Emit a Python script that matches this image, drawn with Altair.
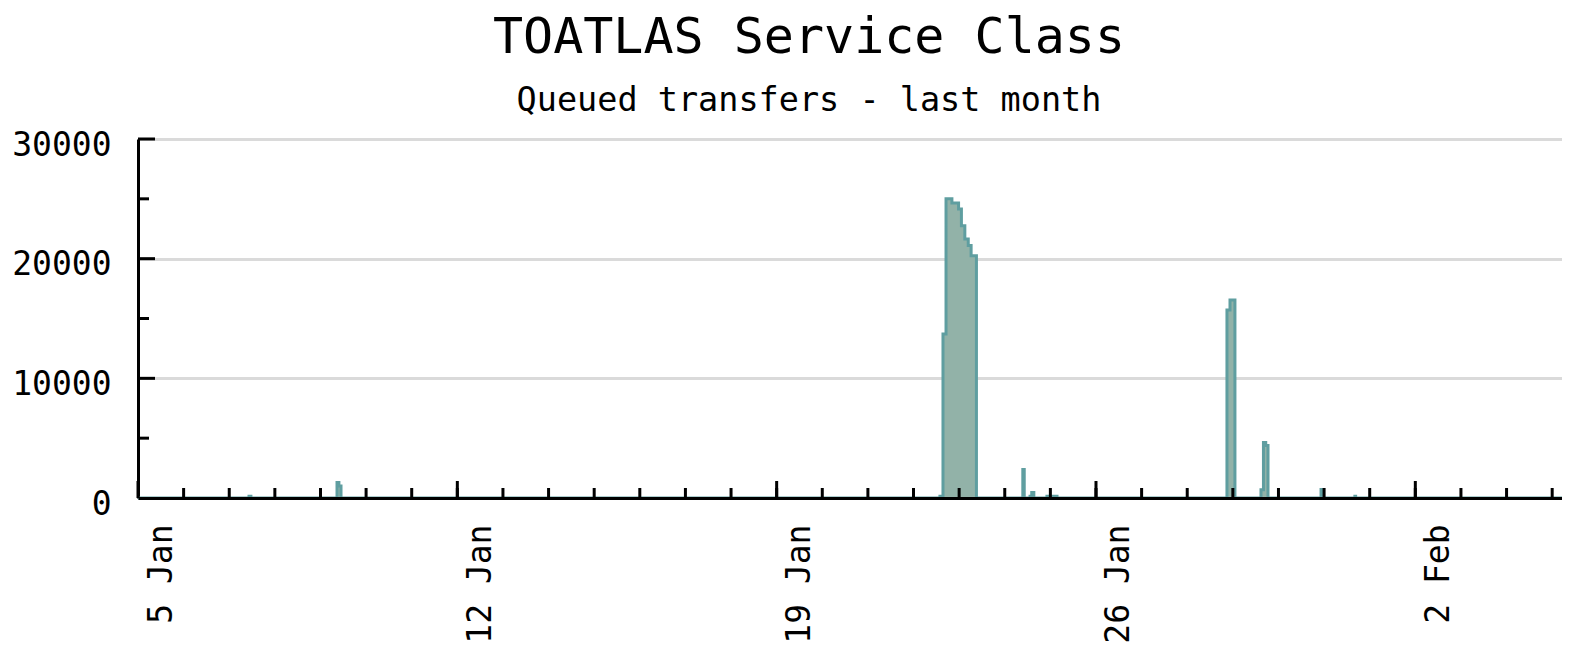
import altair as alt
import pandas as pd

FONT = "DejaVu Sans Mono"
FILL = "#92b2a8"
LINE = "#5f9ea0"

# Queued transfers: each entry is the start of a step (step-after), value held until the next entry
times = [
    "2009-01-05T00:00",
    "2009-01-07T10:24", "2009-01-07T11:24",
    "2009-01-09T08:42", "2009-01-09T09:42", "2009-01-09T10:48",
    "2009-01-22T13:54", "2009-01-22T15:30", "2009-01-22T17:06", "2009-01-22T20:12",
    "2009-01-22T23:42", "2009-01-23T01:12", "2009-01-23T03:00", "2009-01-23T04:48",
    "2009-01-23T06:18", "2009-01-23T09:06",
    "2009-01-24T09:30", "2009-01-24T10:15",
    "2009-01-24T13:18", "2009-01-24T14:12", "2009-01-24T15:18",
    "2009-01-24T22:12", "2009-01-25T03:30",
    "2009-01-28T20:54", "2009-01-28T22:30", "2009-01-29T01:06",
    "2009-01-29T14:48", "2009-01-29T16:06", "2009-01-29T17:18", "2009-01-29T18:30",
    "2009-01-30T22:24", "2009-01-30T23:06",
    "2009-01-31T16:12", "2009-01-31T16:36",
    "2009-02-05T05:10",
]
values = [
    0,
    150, 0,
    1300, 1000, 0,
    150, 13700, 25000, 24650,
    24150, 22750, 21650, 21100,
    20250, 0,
    2380, 0,
    150, 460, 0,
    150, 0,
    15700, 16550, 0,
    690, 4640, 4390, 0,
    710, 0,
    150, 0,
    0,
]

x_start = "2009-01-05T00:00"
x_end = "2009-02-05T05:10"

week_ticks = ["2009-01-05T00:00", "2009-01-12T00:00", "2009-01-19T00:00",
              "2009-01-26T00:00", "2009-02-02T00:00"]
day_ticks = [d.strftime("%Y-%m-%dT%H:%M") for d in pd.date_range("2009-01-06", "2009-02-05", freq="D")]
week_labels = [alt.DateTime(year=2009, month=1, date=5), alt.DateTime(year=2009, month=1, date=12),
               alt.DateTime(year=2009, month=1, date=19), alt.DateTime(year=2009, month=1, date=26),
               alt.DateTime(year=2009, month=2, date=2)]

y_major = [0, 10000, 20000, 30000]
y_minor = [5000, 15000, 25000]

W, H = 1424, 359

df = pd.DataFrame({"time": times, "value": values})

x_scale = alt.Scale(domain=[x_start, x_end])
y_scale = alt.Scale(domain=[0, 30000], nice=False)

x_axis = alt.Axis(
    values=week_labels, format="%-d %b", labelAngle=270, labelAlign="right",
    labelBaseline="top", labelOffset=7, labelPadding=26, labelFont=FONT, labelFontSize=33,
    labelColor="black", labelFlush=False, labelOverlap=False, ticks=False,
    domainColor="black", domainWidth=3, grid=False, title=None, zindex=1,
)
y_axis = alt.Axis(
    values=y_major, format="d", labelFont=FONT, labelFontSize=33, labelColor="black",
    labelPadding=27, labelOffset=6, labelFlush=False, ticks=False, domainColor="black", domainWidth=3,
    grid=True, gridColor="#dadada", gridWidth=3, title=None,
)

area = alt.Chart(df).mark_area(
    interpolate="step-after", color=FILL, opacity=1,
    line={"color": LINE, "strokeWidth": 3},
).encode(
    x=alt.X("time:T", scale=x_scale, axis=x_axis),
    y=alt.Y("value:Q", scale=y_scale, axis=y_axis),
)

minor_x = alt.Chart(pd.DataFrame({"time": day_ticks})).mark_rule(
    color="black", strokeWidth=3
).encode(x=alt.X("time:T", scale=x_scale, axis=x_axis), y=alt.value(H - 10), y2=alt.value(H))

major_x = alt.Chart(pd.DataFrame({"time": week_ticks})).mark_rule(
    color="black", strokeWidth=3
).encode(x=alt.X("time:T", scale=x_scale, axis=x_axis), y=alt.value(H - 17), y2=alt.value(H))

major_y = alt.Chart(pd.DataFrame({"value": y_major[1:]})).mark_rule(
    color="black", strokeWidth=3
).encode(y=alt.Y("value:Q", scale=y_scale, axis=y_axis), x=alt.value(0), x2=alt.value(17))

minor_y = alt.Chart(pd.DataFrame({"value": y_minor})).mark_rule(
    color="black", strokeWidth=3
).encode(y=alt.Y("value:Q", scale=y_scale, axis=y_axis), x=alt.value(0), x2=alt.value(11))

chart = alt.layer(area, minor_x, major_x, major_y, minor_y).properties(
    width=W, height=H,
    autosize=alt.AutoSizeParams(type="none"),
    padding={"left": 130, "top": 131, "right": 0, "bottom": 150},
    title=alt.TitleParams(
        text="TOATLAS Service Class", subtitle="Queued transfers - last month",
        font=FONT, fontSize=50, fontWeight="normal", color="black",
        subtitleFont=FONT, subtitleFontSize=33.5, subtitleColor="black",
        anchor="middle", dx=-41, offset=12, subtitlePadding=22,
    ),
).configure_view(stroke=None).configure(background="white")

chart.save("out.html", embed_options={"renderer": "svg", "actions": False})
